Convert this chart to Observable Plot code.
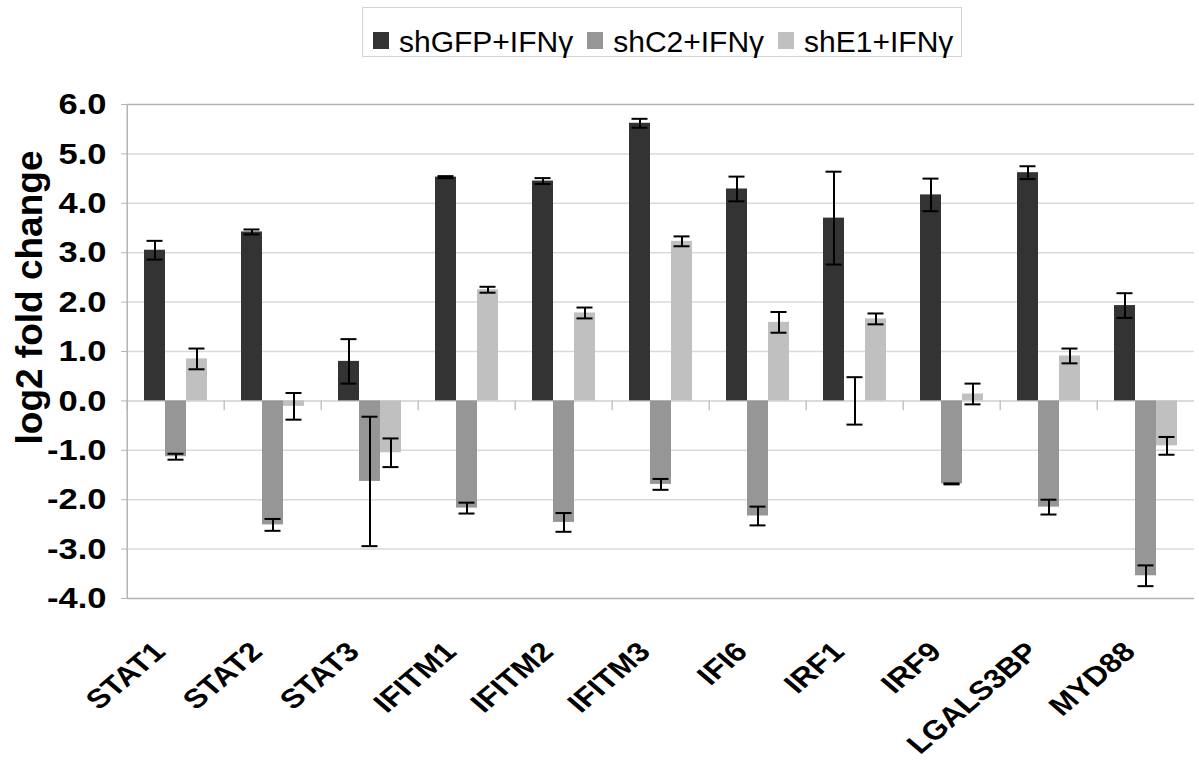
<!DOCTYPE html>
<html>
<head>
<meta charset="utf-8">
<script src="https://cdn.jsdelivr.net/npm/d3@7"></script>
<script src="https://cdn.jsdelivr.net/npm/@observablehq/plot@0.6"></script>
<style>
  body { margin: 0; background: #fff; font-family: "Liberation Sans", Arial, sans-serif; }
  #legend { position: relative; height: 70px; }
  #legend .box {
    position: absolute; left: 362px; top: 7px; width: 600px; height: 50px;
    box-sizing: border-box; border: 1px solid #d4d4d4;
    display: flex; padding: 17px 0 0 10px;
  }
  #legend .item { display: flex; height: 33px; line-height: 33px; font-size: 30px; margin-right: 14px; color: #000; }
  #legend .sw { width: 16px; height: 17px; margin-top: 7px; margin-right: 10px; }
</style>
</head>
<body>
<div id="legend"></div>
<div id="chart"></div>
<script>
// Genes on the category axis
const genes = ["STAT1", "STAT2", "STAT3", "IFITM1", "IFITM2", "IFITM3", "IFI6", "IRF1", "IRF9", "LGALS3BP", "MYD88"];

// Treatment series
const series = ["shGFP+IFNγ", "shC2+IFNγ", "shE1+IFNγ"];
const colors = ["#333333", "#969696", "#c0c0c0"];

// log2 fold change per gene, and error (± half-range) per gene
const shGFP    = [3.05, 3.42, 0.80, 4.53, 4.45, 5.62, 4.29, 3.70, 4.17, 4.62, 1.93];
const shGFPErr = [0.19, 0.05, 0.45, 0.02, 0.06, 0.09, 0.25, 0.94, 0.33, 0.13, 0.25];
const shC2     = [-1.13, -2.51, -1.63, -2.17, -2.46, -1.69, -2.33, 0.00, -1.68, -2.15, -3.54];
const shC2Err  = [0.06, 0.12, 1.31, 0.11, 0.19, 0.11, 0.19, 0.48, 0.01, 0.15, 0.21];
const shE1     = [0.85, -0.11, -1.05, 2.25, 1.78, 3.23, 1.59, 1.66, 0.14, 0.91, -0.91];
const shE1Err  = [0.21, 0.27, 0.29, 0.06, 0.11, 0.10, 0.21, 0.11, 0.21, 0.15, 0.18];

// Value axis
const yTicks = [-4, -3, -2, -1, 0, 1, 2, 3, 4, 5, 6];
const yTitle = "log2 fold change";

const values = [shGFP, shC2, shE1];
const errors = [shGFPErr, shC2Err, shE1Err];
const rows = genes.flatMap((gene, i) =>
  series.map((s, j) => ({gene, series: s, value: values[j][i], err: errors[j][i]}))
);

// Legend box above the chart
const legend = document.getElementById("legend");
const box = document.createElement("div");
box.className = "box";
series.forEach((s, j) => {
  const item = document.createElement("div");
  item.className = "item";
  const sw = document.createElement("span");
  sw.className = "sw";
  sw.style.background = colors[j];
  const label = document.createElement("span");
  label.textContent = s;
  item.append(sw, label);
  box.append(item);
});
legend.append(box);

const W = 1199, H = 694, ML = 124, MR = 2;
const facetWidth = (W - ML - MR) / genes.length;
const tickFormat = (d) => d.toFixed(1);
const bold = {fontWeight: "bold", fill: "black"};

const chart = Plot.plot({
  width: W,
  height: H,
  marginTop: 34,
  marginBottom: 166,
  marginLeft: ML,
  marginRight: MR,
  style: {fontFamily: "'Liberation Sans', Arial, sans-serif", background: "white", overflow: "visible"},
  fx: {domain: genes, padding: 0, axis: null},
  x: {domain: series, paddingInner: 0, paddingOuter: 0.716, axis: null},
  y: {domain: [-4, 6], axis: null},
  color: {domain: series, range: colors},
  marks: [
    // horizontal gridlines
    Plot.ruleY(yTicks.filter((t) => t > -4 && t < 6 && t !== 0), {stroke: "#dadada", strokeWidth: 1.5}),
    Plot.ruleY([-4, 6], {stroke: "#b4b4b4", strokeWidth: 1.5}),
    // category axis at zero with tick marks between genes
    Plot.ruleY([0], {stroke: "#cfcfcf", strokeWidth: 1.5}),
    Plot.ruleX(genes, {fx: (d) => d, x: null, y1: 0, y2: -0.2, dx: -facetWidth / 2, stroke: "#c4c4c4", strokeWidth: 1.5}),
    // value axis line
    Plot.ruleX([genes[0]], {fx: (d) => d, x: null, y1: -4, y2: 6, dx: -facetWidth / 2, stroke: "#b4b4b4", strokeWidth: 1.5}),
    // bars
    Plot.barY(rows, {fx: "gene", x: "series", y: "value", fill: "series"}),
    // error bars
    Plot.ruleX(rows, {fx: "gene", x: "series", y1: (d) => d.value - d.err, y2: (d) => d.value + d.err, stroke: "black", strokeWidth: 2}),
    Plot.tickY(rows, {fx: "gene", x: "series", y: (d) => d.value + d.err, stroke: "black", strokeWidth: 2, insetLeft: 2.5, insetRight: 2.5}),
    Plot.tickY(rows, {fx: "gene", x: "series", y: (d) => d.value - d.err, stroke: "black", strokeWidth: 2, insetLeft: 2.5, insetRight: 2.5}),
    // value axis ticks and labels
    Plot.axisY(yTicks, {
      tickSize: 6, tickPadding: 15, tickFormat,
      fontSize: 30, stroke: "#b4b4b4", label: null, ...bold
    }),
    // rotated gene labels
    Plot.text(genes, {
      fx: (d) => d, text: (d) => d, frameAnchor: "bottom", dx: -9, dy: 55,
      rotate: -45, textAnchor: "end", lineAnchor: "bottom", fontSize: 27, ...bold
    }),
    // value axis title
    Plot.text([genes[0]], {
      fx: (d) => d, text: () => yTitle, frameAnchor: "left", dx: -97, dy: -54,
      rotate: -90, textAnchor: "middle", lineAnchor: "middle", fontSize: 37, ...bold
    })
  ]
});

document.getElementById("chart").append(chart);

// Axis lettering is drawn slightly wide: scale tick and gene labels horizontally
// about their own anchor points.
const tickLabels = yTicks.map(tickFormat);
const widen = (el, k) => {
  const t = el.getAttribute("transform") || "";
  if (t.includes("rotate(")) el.setAttribute("transform", t.replace("rotate(", `scale(${k},1) rotate(`));
  else el.setAttribute("transform", `${t} scale(${k},1)`);
};
chart.querySelectorAll("text").forEach((el) => {
  const s = el.textContent;
  if (genes.includes(s)) widen(el, 1.18);
  else if (tickLabels.includes(s)) widen(el, 1.15);
});
</script>
</body>
</html>
